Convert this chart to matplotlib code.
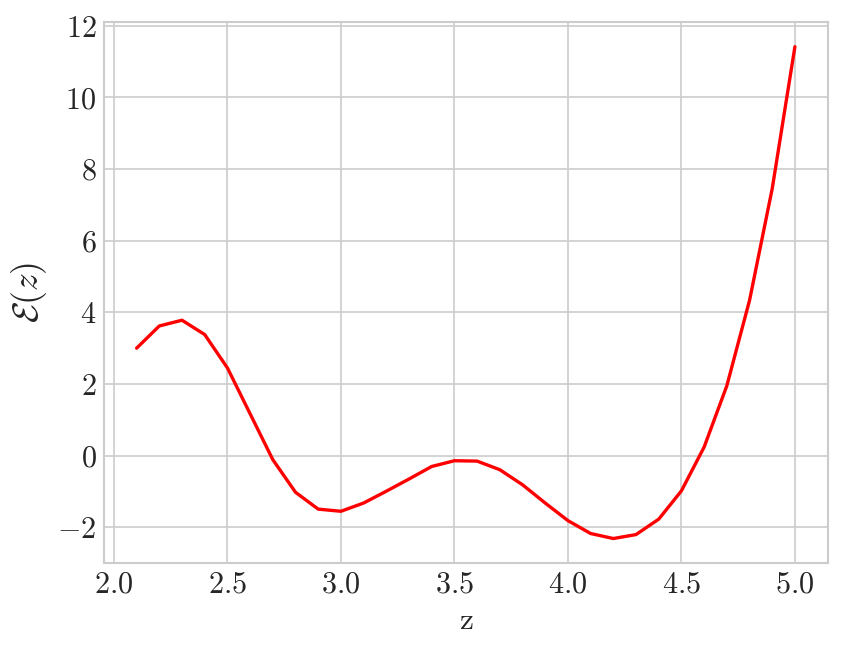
import matplotlib
matplotlib.use("Agg")
import matplotlib.pyplot as plt

# values
z = [2.1, 2.2, 2.3, 2.4, 2.5, 2.6, 2.7, 2.8, 2.9, 3.0,
     3.1, 3.2, 3.3, 3.4, 3.5, 3.6, 3.7, 3.8, 3.9, 4.0,
     4.1, 4.2, 4.3, 4.4, 4.5, 4.6, 4.7, 4.8, 4.9, 5.0]
energy = [3.0, 3.62, 3.78, 3.38, 2.45, 1.17, -0.11, -1.02, -1.49, -1.55,
          -1.32, -0.99, -0.65, -0.30, -0.14, -0.15, -0.39, -0.81, -1.32, -1.81,
          -2.17, -2.31, -2.20, -1.77, -0.98, 0.24, 1.95, 4.33, 7.45, 11.41]

plt.style.use("seaborn-v0_8-whitegrid")
plt.rcParams["font.family"] = "serif"
plt.rcParams["font.serif"] = ["cmr10"]
plt.rcParams["mathtext.fontset"] = "cm"
plt.rcParams["axes.formatter.use_mathtext"] = True
plt.rcParams["xtick.labelsize"] = 14.5
plt.rcParams["ytick.labelsize"] = 14.5

fig = plt.figure(figsize=(843 / 150, 651 / 150), dpi=150)
ax = fig.add_subplot(111)
fig.subplots_adjust(left=0.123, right=0.982, top=0.966, bottom=0.135)

ax.plot(z, energy, color="red", linewidth=1.6)
ax.set_xlabel("z", fontsize=15)
ax.set_ylabel(r"$\mathcal{E}(z)$", fontsize=17)
for s in ax.spines.values():
    s.set_visible(True)
    s.set_color("0.8")

fig.savefig("out.png", dpi=150)
